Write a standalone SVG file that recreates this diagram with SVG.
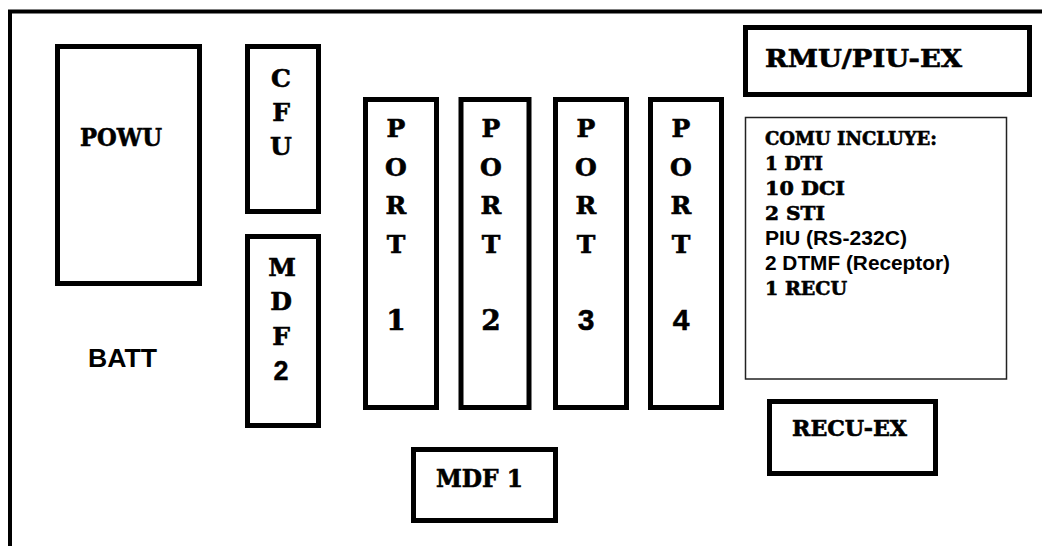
<svg xmlns="http://www.w3.org/2000/svg" width="1042" height="546" viewBox="0 0 1042 546">
<style>
.box{fill:#fff;stroke:#000;stroke-width:5}
.thin{fill:#fff;stroke:#222;stroke-width:1.5}
.s{font-family:"DejaVu Serif","Liberation Serif",serif;font-weight:bold;fill:#000;stroke:#000;stroke-width:0.6}
.a{font-family:"Liberation Sans",Arial,sans-serif;font-weight:bold;fill:#000}
.c{text-anchor:middle}
.v{font-size:25px}
.n{font-size:28px}
.an{font-size:30px;stroke:#000;stroke-width:0.5}
</style>
<rect width="1042" height="546" fill="#fff"/>
<path id="frame" d="M10,546 V11.5 H1042" fill="none" stroke="#000" stroke-width="4"/>
<g id="connectors"/>
<g id="powu">
<rect class="box" x="57.5" y="46.5" width="142" height="237"/>
<text class="s" x="80" y="146" font-size="24" textLength="82" lengthAdjust="spacingAndGlyphs">POWU</text>
</g>
<g id="batt">
<text class="a" x="88" y="367" font-size="25" textLength="69" lengthAdjust="spacingAndGlyphs">BATT</text>
</g>
<g id="cfu">
<rect class="box" x="247.5" y="46.5" width="71" height="165"/>
<text class="s c v" x="281" y="87">C</text>
<text class="s c v" x="281" y="121">F</text>
<text class="s c v" x="281" y="155">U</text>
</g>
<g id="mdf2">
<rect class="box" x="247.5" y="236.5" width="71" height="189"/>
<text class="s c v" x="282" y="276">M</text>
<text class="s c v" x="281" y="310">D</text>
<text class="s c v" x="281" y="345">F</text>
<text class="a c" x="281" y="380" font-size="27" stroke="#000" stroke-width="0.4">2</text>
</g>
<g id="port1">
<rect class="box" x="365.5" y="99.5" width="71" height="308"/>
<text class="s c v" x="396" y="137">P</text>
<text class="s c v" x="396" y="175.5">O</text>
<text class="s c v" x="396" y="214">R</text>
<text class="s c v" x="396" y="252.5">T</text>
<text class="s c n" x="396" y="329.5">1</text>
</g>
<g id="port2">
<rect class="box" x="461" y="99.5" width="68" height="308"/>
<text class="s c v" x="491" y="137">P</text>
<text class="s c v" x="491" y="175.5">O</text>
<text class="s c v" x="491" y="214">R</text>
<text class="s c v" x="491" y="252.5">T</text>
<text class="s c n" x="491" y="329.5">2</text>
</g>
<g id="port3">
<rect class="box" x="555.5" y="99.5" width="71" height="308"/>
<text class="s c v" x="586" y="137">P</text>
<text class="s c v" x="586" y="175.5">O</text>
<text class="s c v" x="586" y="214">R</text>
<text class="s c v" x="586" y="252.5">T</text>
<text class="a c an" x="586" y="329.5">3</text>
</g>
<g id="port4">
<rect class="box" x="650.5" y="99.5" width="71" height="308"/>
<text class="s c v" x="681" y="137">P</text>
<text class="s c v" x="681" y="175.5">O</text>
<text class="s c v" x="681" y="214">R</text>
<text class="s c v" x="681" y="252.5">T</text>
<text class="a c an" x="681" y="329.5">4</text>
</g>
<g id="rmu">
<rect class="box" x="745.5" y="27.5" width="284" height="67"/>
<text class="s" x="765" y="67" font-size="24" textLength="197" lengthAdjust="spacingAndGlyphs">RMU/PIU-EX</text>
</g>
<g id="comu">
<rect class="thin" x="745.5" y="117.5" width="261" height="261.5"/>
<text class="s" x="765" y="145" font-size="18.5" textLength="172" lengthAdjust="spacingAndGlyphs">COMU INCLUYE:</text>
<text class="s" x="765" y="170" font-size="18.5" textLength="58" lengthAdjust="spacingAndGlyphs">1 DTI</text>
<text class="s" x="765" y="195" font-size="18.5" textLength="80" lengthAdjust="spacingAndGlyphs">10 DCI</text>
<text class="s" x="765" y="220" font-size="18.5" textLength="60" lengthAdjust="spacingAndGlyphs">2 STI</text>
<text class="a" x="765" y="245" font-size="19.5" textLength="142" lengthAdjust="spacingAndGlyphs">PIU (RS-232C)</text>
<text class="a" x="765" y="270" font-size="19.5" textLength="185" lengthAdjust="spacingAndGlyphs">2 DTMF (Receptor)</text>
<text class="s" x="765" y="295" font-size="18.5" textLength="82" lengthAdjust="spacingAndGlyphs">1 RECU</text>
</g>
<g id="recu-ex">
<rect class="box" x="769.5" y="401.5" width="166" height="72"/>
<text class="s" x="792" y="436" font-size="22" textLength="115" lengthAdjust="spacingAndGlyphs">RECU-EX</text>
</g>
<g id="mdf1">
<rect class="box" x="413.5" y="449.5" width="142" height="71"/>
<text class="s" x="436" y="487" font-size="24" textLength="87" lengthAdjust="spacingAndGlyphs">MDF 1</text>
</g>
</svg>
